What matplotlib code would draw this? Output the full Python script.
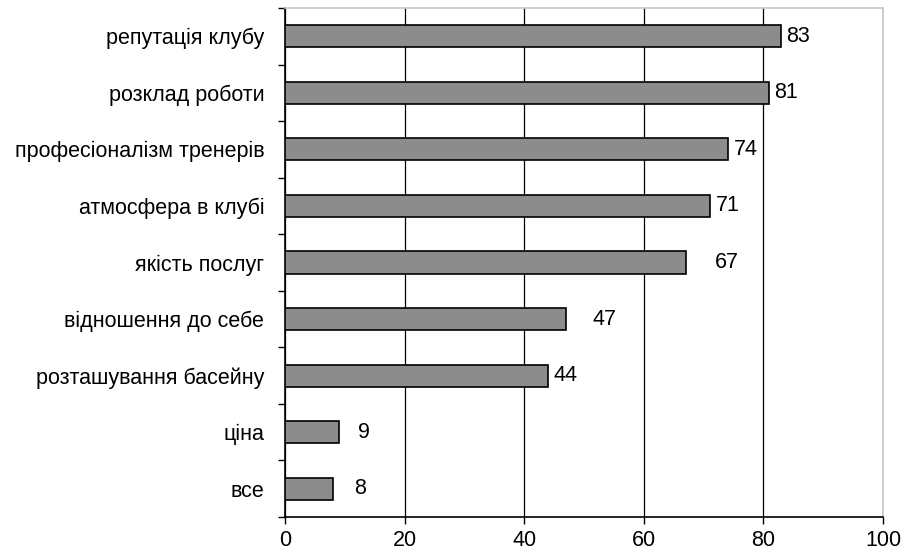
import matplotlib.pyplot as plt
import numpy as np

plt.rcParams['font.family'] = ['Liberation Sans', 'DejaVu Sans']

categories = ['репутація клубу', 'розклад роботи', 'професіоналізм тренерів',
              'атмосфера в клубі', 'якість послуг', 'відношення до себе',
              'розташування басейну', 'ціна', 'все']
values = [83, 81, 74, 71, 67, 47, 44, 9, 8]
x_ticks = [0, 20, 40, 60, 80, 100]

# label offsets (points) beyond bar end, as drawn in the original
label_pad = [3.6, 3.6, 4.3, 4.3, 21, 19, 3.6, 14, 15]

fig = plt.figure(figsize=(9.01, 5.51), dpi=100)
ax = fig.add_axes([285 / 901, 34 / 551, 598 / 901, 509 / 551])

y = np.arange(len(categories))
ax.barh(y, values, height=0.39, color='#8c8c8c', edgecolor='black', linewidth=1.2, zorder=3)

for yi, v, p in zip(y, values, label_pad):
    ax.annotate(str(v), (v, yi), xytext=(p, 0), textcoords='offset points',
                va='center', ha='left', fontsize=15.5)

ax.set_xlim(0, 100)
ax.set_ylim(len(categories) - 0.5, -0.5)
ax.set_xticks(x_ticks)
ax.set_xticklabels([str(t) for t in x_ticks], fontsize=15.5)
ax.tick_params(axis='x', direction='out', length=5, width=1, pad=4)

ax.set_yticks(y)
ax.set_yticklabels(categories, fontsize=15.5)
ax.tick_params(axis='y', which='major', length=0, pad=15)
ax.set_yticks(np.arange(-0.5, len(categories), 1), minor=True)
ax.tick_params(axis='y', which='minor', direction='out', length=5, width=1)

ax.grid(axis='x', color='black', linewidth=0.9, zorder=0)
ax.set_axisbelow(True)

ax.spines['left'].set_color('black')
ax.spines['bottom'].set_color('black')
ax.spines['top'].set_color('#c8c8c8')
ax.spines['right'].set_color('#c8c8c8')
for s in ax.spines.values():
    s.set_linewidth(1.2)

plt.savefig('out.png', dpi=100)
